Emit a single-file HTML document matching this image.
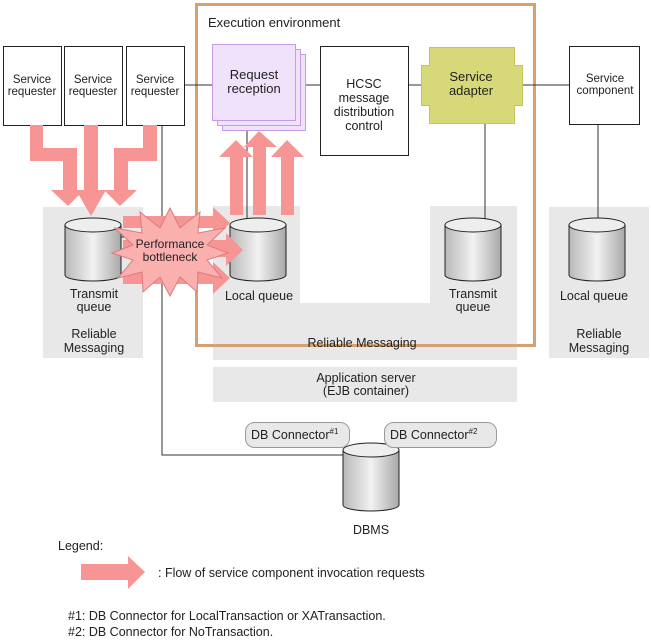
<!DOCTYPE html>
<html><head><meta charset="utf-8"><style>
body{margin:0;background:#fff}
svg{display:block}
text{font-family:"Liberation Sans",sans-serif;fill:#222}
</style></head><body>
<svg width="651" height="644" viewBox="0 0 651 644" xmlns="http://www.w3.org/2000/svg">
<defs>
<linearGradient id="cg" x1="0" x2="1">
<stop offset="0" stop-color="#b8b8b8"/><stop offset="0.5" stop-color="#f2f2f2"/><stop offset="1" stop-color="#a8a8a8"/>
</linearGradient>
</defs>
<rect x="43" y="207" width="100" height="151" fill="#e8e8e8"/>
<path d="M213 206H300V303H430V206H517V360H213Z" fill="#e8e8e8"/>
<rect x="213" y="367" width="304" height="35" fill="#e8e8e8"/>
<rect x="549" y="207" width="100" height="151" fill="#e8e8e8"/>
<rect x="196.5" y="4.5" width="338" height="341" fill="none" stroke="#d4a272" stroke-width="3"/>
<text x="208" y="27" font-size="13">Execution environment</text>
<g stroke="#333" stroke-width="1" fill="none">
<line x1="184" y1="85" x2="212" y2="85"/>
<line x1="295" y1="85" x2="320" y2="85"/>
<line x1="408" y1="85" x2="421" y2="85"/>
<line x1="522" y1="85" x2="569" y2="85"/>
<path d="M162 125V455H343"/>
<line x1="247" y1="120" x2="247" y2="220"/>
<line x1="485" y1="123" x2="485" y2="220"/>
<line x1="598" y1="124" x2="598" y2="220"/>
<line x1="121" y1="237" x2="135" y2="237"/>
</g>
<g fill="#fff" stroke="#222">
<rect x="3.5" y="46.5" width="58" height="79"/>
<rect x="64.5" y="46.5" width="58" height="79"/>
<rect x="126.5" y="46.5" width="58" height="79"/>
<rect x="320.5" y="46.5" width="88" height="109"/>
<rect x="569.5" y="46.5" width="70" height="78"/>
</g>
<g font-size="11.5" text-anchor="middle">
<text x="32" y="83">Service</text><text x="32" y="95">requester</text>
<text x="93" y="83">Service</text><text x="93" y="95">requester</text>
<text x="155" y="83">Service</text><text x="155" y="95">requester</text>
<text x="605" y="82">Service</text><text x="605" y="94">component</text>
</g>
<g font-size="12.5" text-anchor="middle">
<text x="364" y="88">HCSC</text><text x="364" y="102">message</text><text x="364" y="116">distribution</text><text x="364" y="130">control</text>
</g>
<g fill="#f0e2fb" stroke="#c79ae8">
<rect x="222.5" y="54.5" width="83" height="76"/>
<rect x="217.5" y="49.5" width="83" height="76"/>
<rect x="212.5" y="44.5" width="83" height="76"/>
</g>
<text x="254" y="79" font-size="13" text-anchor="middle">Request</text>
<text x="254" y="93" font-size="13" text-anchor="middle">reception</text>
<path d="M429.5 47.5H514.5V65.5H522.5V105.5H514.5V123.5H429.5V105.5H421.5V65.5H429.5Z" fill="#d7d878" stroke="#c3c460"/>
<text x="471" y="81" font-size="13" text-anchor="middle">Service</text>
<text x="471" y="95" font-size="13" text-anchor="middle">adapter</text>
<g stroke="#222" stroke-width="1">
<path d="M65 225V275A28 6 0 0 0 121 275V225Z" fill="url(#cg)"/><ellipse cx="93" cy="225" rx="28" ry="7" fill="#eee"/>
<path d="M230 225V275A28 6 0 0 0 286 275V225Z" fill="url(#cg)"/><ellipse cx="258" cy="225" rx="28" ry="7" fill="#eee"/>
<path d="M445 225V275A28 6 0 0 0 501 275V225Z" fill="url(#cg)"/><ellipse cx="473" cy="225" rx="28" ry="7" fill="#eee"/>
<path d="M569 225V275A28 6 0 0 0 625 275V225Z" fill="url(#cg)"/><ellipse cx="597" cy="225" rx="28" ry="7" fill="#eee"/>
<path d="M343 450V505A28 6 0 0 0 399 505V450Z" fill="url(#cg)"/><ellipse cx="371" cy="450" rx="28" ry="7" fill="#eee"/>
</g>
<g fill="#f79595">
<path d="M30 125H43V148H77V190H84L68 206L51 190H63V161H30Z"/>
<path d="M84 125H98V190H106L91 216L76 190H84Z"/>
<path d="M143 125H157V161H128V190H137L120 206L104 190H114V148H143Z"/>
<path d="M230 215V157H219L236 140L253 157H243V215Z"/>
<path d="M253 215V147H244L259 131L277 147H266V215Z"/>
<path d="M281 215V157H271L287 140L304 157H294V215Z"/>
<path d="M123 216H213V207L230 223L213 240V228H123Z"/>
<path d="M123 240H226V233L243 250L226 266V257H123Z"/>
<path d="M123 272H213V262L230 278L213 294V284H123Z"/>
<path d="M81 564H128V556L145 572L128 589V580H81Z"/>
</g>
<polygon points="170,208 180,228 200,212 198,233 225,228 207,245 228,253 207,260 222,278 198,272 197,292 180,277 170,296 160,277 143,292 142,272 118,278 133,260 112,253 133,245 115,228 142,233 140,212 160,228" fill="#fbb0b0" stroke="#e07a7a"/>
<text x="170" y="248" font-size="12" text-anchor="middle">Performance</text>
<text x="170" y="261" font-size="12" text-anchor="middle">bottleneck</text>
<g font-size="12.5" text-anchor="middle">
<text x="94" y="298">Transmit</text><text x="94" y="311">queue</text>
<text x="94" y="338">Reliable</text><text x="94" y="352">Messaging</text>
<text x="259" y="300">Local queue</text>
<text x="473" y="298">Transmit</text><text x="473" y="311">queue</text>
<text x="594" y="300">Local queue</text>
<text x="599" y="338">Reliable</text><text x="599" y="352">Messaging</text>
<text x="362" y="347">Reliable Messaging</text>
<text x="366" y="382">Application server</text>
<text x="366" y="395">(EJB container)</text>
<text x="371" y="534">DBMS</text>
</g>
<rect x="245.5" y="422.5" width="104" height="25" rx="9" fill="#e8e8e8" stroke="#999"/>
<rect x="384.5" y="422.5" width="112" height="25" rx="9" fill="#e8e8e8" stroke="#999"/>
<text x="251" y="439" font-size="12.5">DB Connector<tspan font-size="8" dy="-5">#1</tspan></text>
<text x="390" y="439" font-size="12.5">DB Connector<tspan font-size="8" dy="-5">#2</tspan></text>
<text x="58" y="550" font-size="12.5">Legend:</text>
<text x="158" y="577" font-size="12.5">: Flow of service component invocation requests</text>
<text x="68" y="620" font-size="12.5">#1: DB Connector for LocalTransaction or XATransaction.</text>
<text x="68" y="636" font-size="12.5">#2: DB Connector for NoTransaction.</text>
</svg>
</body></html>
